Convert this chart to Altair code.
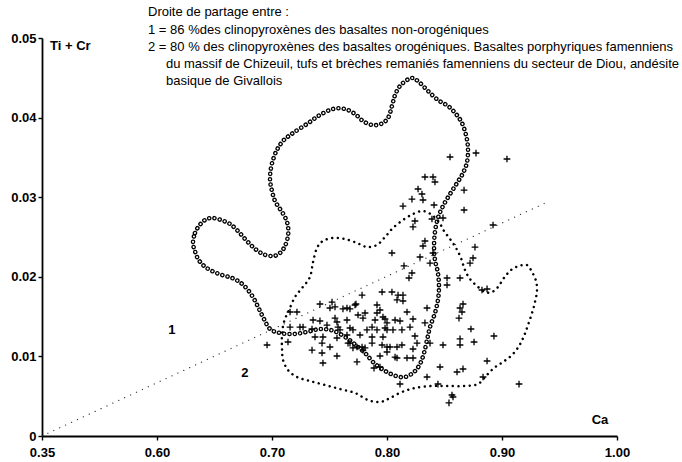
import altair as alt
import pandas as pd

# Contour of the open-circle field (Ca, Ti + Cr), traced in order
field_a_ca = [0.6313, 0.6330, 0.6365, 0.6417, 0.6478, 0.6557, 0.6635, 0.6704, 0.6774, 0.6844,
              0.6922, 0.7009, 0.7070, 0.7113, 0.7139, 0.7139, 0.7113, 0.7070, 0.7026, 0.7000,
              0.6983, 0.6991, 0.7017, 0.7052, 0.7104, 0.7183, 0.7304, 0.7417, 0.7530, 0.7635,
              0.7722, 0.7791, 0.7870, 0.7948, 0.8009, 0.8043, 0.8070, 0.8113, 0.8174, 0.8226,
              0.8287, 0.8357, 0.8443, 0.8530, 0.8600, 0.8652, 0.8687, 0.8704, 0.8696, 0.8661,
              0.8609, 0.8548, 0.8487, 0.8443, 0.8417, 0.8409, 0.8417, 0.8443, 0.8452, 0.8443,
              0.8417, 0.8374, 0.8348, 0.8322, 0.8287, 0.8235, 0.8157, 0.8078, 0.7983, 0.7887,
              0.7817, 0.7748, 0.7661, 0.7539, 0.7417, 0.7304, 0.7183, 0.7070, 0.6983, 0.6930,
              0.6887, 0.6844, 0.6791, 0.6730, 0.6652, 0.6565, 0.6478, 0.6409, 0.6357, 0.6330]
field_a_tc = [0.02425, 0.02550, 0.02638, 0.02714, 0.02739, 0.02714, 0.02663, 0.02575, 0.02462, 0.02362,
              0.02286, 0.02261, 0.02299, 0.02387, 0.02513, 0.02638, 0.02751, 0.02852, 0.02952, 0.03078,
              0.03216, 0.03367, 0.03505, 0.03618, 0.03719, 0.03807, 0.03920, 0.04033, 0.04108, 0.04108,
              0.04045, 0.03957, 0.03907, 0.03920, 0.03995, 0.04146, 0.04284, 0.04397, 0.04472, 0.04497,
              0.04435, 0.04334, 0.04221, 0.04146, 0.04045, 0.03932, 0.03781, 0.03618, 0.03442, 0.03304,
              0.03178, 0.03040, 0.02889, 0.02739, 0.02563, 0.02374, 0.02211, 0.02048, 0.01872, 0.01709,
              0.01545, 0.01369, 0.01206, 0.01043, 0.00905, 0.00804, 0.00741, 0.00754, 0.00817, 0.00917,
              0.01030, 0.01118, 0.01219, 0.01319, 0.01344, 0.01307, 0.01281, 0.01294, 0.01344, 0.01470,
              0.01596, 0.01721, 0.01834, 0.01922, 0.01985, 0.02023, 0.02073, 0.02136, 0.02224, 0.02324]

# Contour of the dotted field
field_b_ca = [0.7330, 0.7357, 0.7391, 0.7443, 0.7530, 0.7635, 0.7739, 0.7826, 0.7913, 0.7983,
              0.8052, 0.8139, 0.8226, 0.8313, 0.8391, 0.8452, 0.8496, 0.8548, 0.8600, 0.8643,
              0.8678, 0.8722, 0.8783, 0.8852, 0.8913, 0.8965, 0.9017, 0.9078, 0.9148, 0.9217,
              0.9261, 0.9296, 0.9304, 0.9287, 0.9261, 0.9226, 0.9191, 0.9148, 0.9087, 0.9009,
              0.8930, 0.8861, 0.8791, 0.8678, 0.8530, 0.8391, 0.8243, 0.8130, 0.8026, 0.7939,
              0.7835, 0.7722, 0.7591, 0.7461, 0.7330, 0.7217, 0.7139, 0.7096, 0.7087, 0.7087,
              0.7104, 0.7148, 0.7200, 0.7261]
field_b_tc = [0.01997, 0.02186, 0.02362, 0.02450, 0.02487, 0.02475, 0.02425, 0.02374, 0.02400, 0.02500,
              0.02613, 0.02714, 0.02789, 0.02827, 0.02776, 0.02688, 0.02575, 0.02475, 0.02362, 0.02236,
              0.02085, 0.01972, 0.01884, 0.01809, 0.01809, 0.01872, 0.01985, 0.02085, 0.02136, 0.02148,
              0.02060, 0.01947, 0.01822, 0.01683, 0.01545, 0.01394, 0.01256, 0.01131, 0.01018, 0.00930,
              0.00854, 0.00754, 0.00653, 0.00628, 0.00628, 0.00628, 0.00603, 0.00553, 0.00477, 0.00427,
              0.00452, 0.00540, 0.00591, 0.00641, 0.00691, 0.00741, 0.00829, 0.00955, 0.01106, 0.01269,
              0.01432, 0.01583, 0.01746, 0.01859]

# Clinopyroxene analyses
cpx_ca = [0.8548, 0.8774, 0.9043, 0.8330, 0.8400, 0.8417, 0.8270, 0.8304, 0.8217, 0.8313,
          0.8670, 0.8139, 0.8409, 0.8670, 0.8243, 0.8391, 0.8487, 0.8226, 0.8922, 0.8330,
          0.8313, 0.8765, 0.8043, 0.8287, 0.8400, 0.8374, 0.8148, 0.8217, 0.8191, 0.8748,
          0.8722, 0.8522, 0.8635, 0.8522, 0.8826, 0.8870, 0.7783, 0.7957, 0.8043, 0.8096,
          0.8139, 0.8087, 0.8139, 0.7913, 0.7417, 0.7522, 0.7548, 0.7652, 0.7722, 0.7217,
          0.7157, 0.7809, 0.7939, 0.8174, 0.8348, 0.8661, 0.8635, 0.8652, 0.8626, 0.7357,
          0.7417, 0.7548, 0.7652, 0.7791, 0.7896, 0.7983, 0.8070, 0.8113, 0.8226, 0.8330,
          0.8730, 0.7157, 0.7243, 0.7478, 0.7574, 0.7704, 0.7826, 0.7913, 0.8000, 0.8130,
          0.8200, 0.8243, 0.8261, 0.8374, 0.8487, 0.8635, 0.8635, 0.8757, 0.8930, 0.7374,
          0.7443, 0.7565, 0.7678, 0.7783, 0.7870, 0.7957, 0.8026, 0.8130, 0.6957, 0.7139,
          0.7348, 0.7435, 0.7504, 0.7565, 0.7739, 0.7791, 0.7939, 0.8000, 0.8087, 0.8174,
          0.8226, 0.8226, 0.7443, 0.7739, 0.7939, 0.8461, 0.8609, 0.8661, 0.8348, 0.8113,
          0.8443, 0.8565, 0.8574, 0.8539, 0.8870, 0.8835, 0.9148, 0.7617, 0.7678, 0.7730,
          0.7504, 0.7748, 0.7913, 0.7965, 0.7565, 0.8000, 0.7270, 0.7348, 0.7591, 0.7678,
          0.7870, 0.7983, 0.8052, 0.7652, 0.7765, 0.7870, 0.7965, 0.7435, 0.7661, 0.7704,
          0.7809, 0.8000, 0.8087, 0.7887, 0.8070]
cpx_tc = [0.03505, 0.03555, 0.03480, 0.03254, 0.03254, 0.03191, 0.03103, 0.03040, 0.02977, 0.02965,
          0.03090, 0.02889, 0.02902, 0.02839, 0.02701, 0.02726, 0.02739, 0.02626, 0.02651, 0.02450,
          0.02387, 0.02374, 0.02299, 0.02249, 0.02299, 0.02173, 0.02136, 0.02048, 0.01985, 0.02236,
          0.02173, 0.01985, 0.01985, 0.01897, 0.01834, 0.01847, 0.01771, 0.01809, 0.01809, 0.01771,
          0.01771, 0.01709, 0.01696, 0.01646, 0.01658, 0.01683, 0.01621, 0.01608, 0.01646, 0.01558,
          0.01558, 0.01545, 0.01583, 0.01558, 0.01608, 0.01658, 0.01608, 0.01558, 0.01482, 0.01457,
          0.01445, 0.01482, 0.01457, 0.01482, 0.01457, 0.01470, 0.01457, 0.01445, 0.01470, 0.01420,
          0.01344, 0.01369, 0.01369, 0.01394, 0.01369, 0.01332, 0.01332, 0.01332, 0.01332, 0.01332,
          0.01369, 0.01256, 0.01168, 0.01168, 0.01143, 0.01219, 0.01143, 0.01181, 0.01256, 0.01244,
          0.01244, 0.01231, 0.01168, 0.01118, 0.01168, 0.01143, 0.01118, 0.01143, 0.01143, 0.01181,
          0.01080, 0.01043, 0.01118, 0.01005, 0.01118, 0.01080, 0.01005, 0.01055, 0.00980, 0.00980,
          0.00980, 0.01093, 0.00917, 0.00930, 0.00867, 0.00867, 0.00804, 0.00842, 0.00741, 0.00653,
          0.00653, 0.00515, 0.00490, 0.00415, 0.00942, 0.00741, 0.00653, 0.01596, 0.01596, 0.01658,
          0.01608, 0.01520, 0.01545, 0.01495, 0.01432, 0.01420, 0.01369, 0.01344, 0.01332, 0.01357,
          0.01369, 0.01357, 0.01332, 0.01269, 0.01269, 0.01244, 0.01244, 0.01168, 0.01168, 0.01106,
          0.01106, 0.01118, 0.01118, 0.00854, 0.00992]

# Partition line between the two fields
divide_ca = [0.5, 0.938]
divide_tc = [0.0, 0.0293]

x_ticks = [0.5, 0.6, 0.7, 0.8, 0.9, 1.0]
y_ticks = [0.0, 0.01, 0.02, 0.03, 0.04, 0.05]

legend_lines = [
    "Droite de partage entre :",
    "1  = 86 %des clinopyroxènes des basaltes non-orogéniques",
    "2  = 80 % des clinopyroxènes des basaltes orogéniques. Basaltes porphyriques famenniens",
    "du massif de Chizeuil, tufs et brèches remaniés famenniens du secteur de Diou, andésite",
    "basique de Givallois",
]
legend_ca = [0.5922, 0.5922, 0.5922, 0.6078, 0.6078]
legend_tc = [0.0533, 0.0510, 0.0489, 0.0467, 0.0446]

FONT = "Liberation Sans"

xs = alt.Scale(domain=[0.5, 1.0], nice=False, zero=False)
ys = alt.Scale(domain=[0.0, 0.05], nice=False, zero=False)

x_axis = alt.Axis(values=x_ticks, title=None, grid=False,
                  labelExpr="datum.value == 0.5 ? '0.35' : format(datum.value, '.2f')",
                  domainColor="black", domainWidth=1.8, tickColor="black", tickSize=4,
                  tickWidth=1.4, labelFont=FONT, labelFontWeight="bold", labelFontSize=13,
                  labelColor="black", labelPadding=6, labelFlush=False, labelOverlap=False)
y_axis = alt.Axis(values=y_ticks, title=None, grid=False,
                  labelExpr="datum.value == 0 ? '0' : format(datum.value, '.2f')",
                  domainColor="black", domainWidth=1.8, tickColor="black", tickSize=4,
                  tickWidth=1.4, labelFont=FONT, labelFontWeight="bold", labelFontSize=13,
                  labelColor="black", labelPadding=2, labelFlush=False, labelOverlap=False)

df_a = pd.DataFrame({"ca": field_a_ca, "tc": field_a_tc, "i": range(len(field_a_ca))})
df_b = pd.DataFrame({"ca": field_b_ca, "tc": field_b_tc, "i": range(len(field_b_ca))})
df_pts = pd.DataFrame({"ca": cpx_ca, "tc": cpx_tc})
df_div = pd.DataFrame({"ca": divide_ca, "tc": divide_tc, "i": [0, 1]})
df_leg = pd.DataFrame({"ca": legend_ca, "tc": legend_tc, "text": legend_lines})
df_num = pd.DataFrame({"ca": [0.6130, 0.6765], "tc": [0.01332, 0.00791], "text": ["1", "2"]})
df_yt = pd.DataFrame({"ca": [0.5070], "tc": [0.0490], "text": ["Ti + Cr"]})
df_xt = pd.DataFrame({"ca": [0.9852], "tc": [0.0020], "text": ["Ca"]})


def enc(base):
    return base.encode(
        x=alt.X("ca:Q", scale=xs, axis=x_axis),
        y=alt.Y("tc:Q", scale=ys, axis=y_axis),
    )


divide = enc(alt.Chart(df_div).mark_line(color="#333", strokeWidth=1.3, strokeDash=[0.01, 6.5],
                                         strokeCap="round")).encode(order="i:Q")

# open circles: a thick dotted stroke hollowed by a thinner white one on the same path
ring_outer = enc(alt.Chart(df_a).mark_line(color="black", strokeWidth=4.6, strokeDash=[0.01, 5.3],
                                           strokeCap="round", interpolate="cardinal-closed")).encode(order="i:Q")
ring_inner = enc(alt.Chart(df_a).mark_line(color="white", strokeWidth=2.0, strokeDash=[0.01, 5.3],
                                           strokeCap="round", interpolate="cardinal-closed")).encode(order="i:Q")

dots = enc(alt.Chart(df_b).mark_line(color="black", strokeWidth=2.5, strokeDash=[0.01, 5.6],
                                     strokeCap="round", interpolate="cardinal-closed")).encode(order="i:Q")

crosses = enc(alt.Chart(df_pts).mark_point(shape="M-1,0L1,0M0,-1L0,1", size=45, filled=False,
                                           color="black", strokeWidth=1.3, opacity=1))

legend = enc(alt.Chart(df_leg).mark_text(align="left", baseline="middle", font=FONT, fontSize=13,
                                         color="black")).encode(text="text:N")
numbers = enc(alt.Chart(df_num).mark_text(align="center", baseline="middle", font=FONT, fontSize=13,
                                          fontWeight="bold", color="black")).encode(text="text:N")
y_title = enc(alt.Chart(df_yt).mark_text(align="left", baseline="middle", font=FONT, fontSize=13,
                                         fontWeight="bold", color="black")).encode(text="text:N")
x_title = enc(alt.Chart(df_xt).mark_text(align="center", baseline="middle", font=FONT, fontSize=13,
                                         fontWeight="bold", color="black")).encode(text="text:N")

chart = alt.layer(divide, ring_outer, ring_inner, dots, crosses, legend, numbers, y_title, x_title).properties(
    width=575, height=398,
    padding={"left": 42, "top": 38, "right": 65, "bottom": 26},
    autosize=alt.AutoSizeParams(type="none"),
    background="white",
).configure_view(stroke=None)

chart.save("out.html", embed_options={"renderer": "svg", "actions": False})
